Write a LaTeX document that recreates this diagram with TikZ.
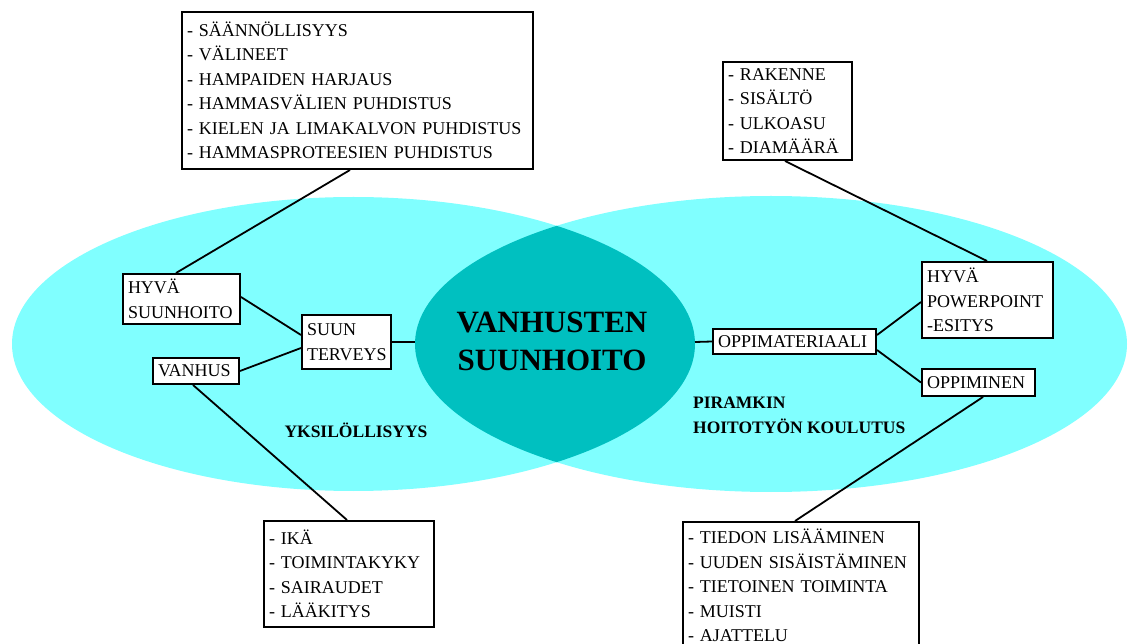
\documentclass[tikz,border=0pt]{standalone}
\usepackage{fontspec}
\setmainfont{Liberation Serif}
\definecolor{lightc}{HTML}{80FFFF}
\definecolor{darkc}{HTML}{00C0C0}
\begin{document}
\begin{tikzpicture}[x=1pt,y=-1pt,
  box/.style={draw, line width=2pt, fill=white, inner xsep=5pt, inner ysep=0pt,
    align=left, font=\fontsize{18}{24.5}\selectfont},
  conn/.style={line width=1.8pt},
  lab/.style={font=\bfseries\fontsize{17.5}{25}\selectfont, inner sep=0pt}]
\useasboundingbox (0,0) rectangle (1128,644);
\clip (0,0) rectangle (1128,644);
% ellipses
\fill[lightc] (353.5,344) ellipse [x radius=341.5, y radius=147];
\fill[lightc] (771,344) ellipse [x radius=356, y radius=148];
\begin{scope}
  \clip (353.5,344) ellipse [x radius=341.5, y radius=147];
  \fill[darkc] (771,344) ellipse [x radius=356, y radius=148];
\end{scope}
\coordinate (lensL) at (415,342);
\coordinate (lensR) at (695,342);
% central text
\node[font=\bfseries\fontsize{31}{38}\selectfont, align=center, inner sep=0pt] (ctr) at (552,341) {VANHUSTEN\\SUUNHOITO};
% labels
\node[lab] (yk) at (356,430) {YKSILÖLLISYYS};
\node[lab, anchor=west, align=left] (pk) at (693,415) {PIRAMKIN\\HOITOTYÖN KOULUTUS};
% boxes
\node[box, text width=341pt, minimum height=157pt] (tl) at (357.5,90.5)
  {- SÄÄNNÖLLISYYS\\- VÄLINEET\\- HAMPAIDEN HARJAUS\\- HAMMASVÄLIEN PUHDISTUS\\- KIELEN JA LIMAKALVON PUHDISTUS\\- HAMMASPROTEESIEN PUHDISTUS};
\node[box, text width=119pt, minimum height=98pt] (tr) at (787.5,111)
  {- RAKENNE\\- SISÄLTÖ\\- ULKOASU\\- DIAMÄÄRÄ};
\node[box, text width=107pt, minimum height=50pt] (hs) at (181.5,299)
  {HYVÄ\\SUUNHOITO};
\node[box, text width=79pt, minimum height=54pt] (st) at (346.5,342)
  {SUUN\\TERVEYS};
\node[box, text width=76pt, minimum height=26pt] (va) at (196,371)
  {VANHUS};
\node[box, text width=153pt, minimum height=25pt] (om) at (794.5,341.5)
  {OPPIMATERIAALI};
\node[box, text width=121pt, minimum height=76pt] (pp) at (987.5,300)
  {HYVÄ\\POWERPOINT\\-ESITYS};
\node[box, text width=103pt, minimum height=27pt] (oi) at (978.5,382.5)
  {OPPIMINEN};
\node[box, text width=160pt, minimum height=106pt] (ik) at (349,574)
  {- IKÄ\\- TOIMINTAKYKY\\- SAIRAUDET\\- LÄÄKITYS};
\node[box, text width=226pt, minimum height=127pt] (br) at (801,585.5)
  {- TIEDON LISÄÄMINEN\\- UUDEN SISÄISTÄMINEN\\- TIETOINEN TOIMINTA\\- MUISTI\\- AJATTELU};
% connectors
\draw[conn] ([xshift=-7.5pt]tl.south) -- ([xshift=-5.5pt]hs.north);
\draw[conn] ([yshift=2pt]hs.east) -- ([yshift=7pt]st.west);
\draw[conn] (va.east) -- ([yshift=-6pt]st.west);
\draw[conn] (st.east) -- (lensL);
\draw[conn] (lensR) -- (om.west);
\draw[conn] ([yshift=6.5pt]om.east) -- ([yshift=-2pt]pp.west);
\draw[conn] ([yshift=-8.5pt]om.east) -- (oi.west);
\draw[conn] ([xshift=-2.5pt]tr.south) -- ([xshift=-0.5pt]pp.north);
\draw[conn] ([xshift=4.5pt]oi.south) -- ([xshift=-6pt]br.north);
\draw[conn] ([xshift=-3pt]va.south) -- ([xshift=-2pt]ik.north);
\end{tikzpicture}
\end{document}
